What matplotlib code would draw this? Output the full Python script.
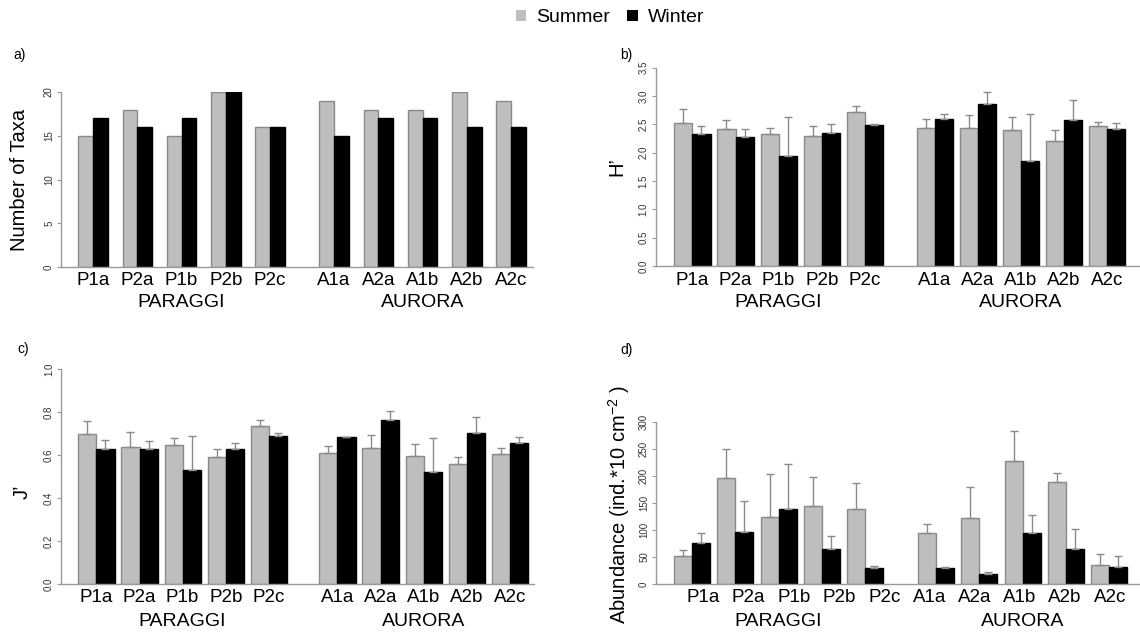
import matplotlib
matplotlib.use("Agg")
import matplotlib.pyplot as plt
from matplotlib.patches import Patch
import numpy as np

plt.rcParams["font.family"] = ["Liberation Sans", "DejaVu Sans"]
plt.rcParams["mathtext.fontset"] = "custom"
plt.rcParams["mathtext.rm"] = "Liberation Sans"
plt.rcParams["mathtext.default"] = "rm"

W, H = 1140, 633

sites = ["P1a", "P2a", "P1b", "P2b", "P2c", "A1a", "A2a", "A1b", "A2b", "A2c"]
locations = ["PARAGGI", "AURORA"]
seasons = ["Summer", "Winter"]

# a) number of taxa
taxa_summer = [15, 18, 15, 20, 16, 19, 18, 18, 20, 19]
taxa_winter = [17, 16, 17, 20, 16, 15, 17, 17, 16, 16]

# b) Shannon H'
h_summer = [2.53, 2.41, 2.33, 2.30, 2.72, 2.44, 2.43, 2.39, 2.21, 2.46]
h_summer_se = [0.24, 0.17, 0.11, 0.17, 0.10, 0.16, 0.24, 0.24, 0.18, 0.08]
h_winter = [2.33, 2.28, 1.94, 2.34, 2.49, 2.60, 2.86, 1.86, 2.58, 2.41]
h_winter_se = [0.14, 0.13, 0.68, 0.17, 0.01, 0.08, 0.20, 0.82, 0.34, 0.11]

# c) Pielou J'
j_summer = [0.697, 0.637, 0.648, 0.592, 0.733, 0.609, 0.632, 0.596, 0.557, 0.604]
j_summer_se = [0.062, 0.071, 0.032, 0.037, 0.031, 0.035, 0.061, 0.053, 0.035, 0.027]
j_winter = [0.629, 0.630, 0.531, 0.627, 0.689, 0.683, 0.761, 0.522, 0.702, 0.657]
j_winter_se = [0.042, 0.036, 0.157, 0.027, 0.014, 0.003, 0.045, 0.155, 0.074, 0.025]

# d) abundance
ab_summer = [52, 196, 123, 144, 139, 95, 122, 227, 188, 35]
ab_summer_se = [11, 54, 80, 54, 47, 16, 57, 56, 18, 21]
ab_winter = [76, 96, 138, 64, 30, 29, 18, 95, 64, 32]
ab_winter_se = [18, 58, 84, 24, 4, 3, 4, 32, 37, 19]

GREY = "#bebebe"
EDGE = "#8a8a8a"
AXC = "#9a9a9a"

fig = plt.figure(figsize=(W / 100, H / 100), dpi=100)


def panel(letter, lay, summer, winter, s_se, w_se, ymax, yticks, fmt, ylabel):
    # lay: pixel layout of the panel (axis ends, baseline, top, bars)
    l, r, base, top = lay["left"], lay["right"], lay["base"], lay["top"]
    ax = fig.add_axes([l / W, 1 - base / H, (r - l) / W, (base - top) / H])
    ax.set_xlim(l, r)
    ax.set_ylim(0, ymax)

    w = lay["w"]
    starts = np.array([lay["x0"] + i * lay["pitch"] for i in range(5)] +
                      [lay["a0"] + i * lay["pitch"] for i in range(5)])
    ax.bar(starts, summer, width=w, align="edge", color=GREY,
           edgecolor=EDGE, linewidth=1, zorder=2)
    ax.bar(starts + w, winter, width=w, align="edge", color="black",
           edgecolor="black", linewidth=1, zorder=2)
    if s_se is not None:
        z = np.zeros(len(summer))
        ax.errorbar(starts + w / 2, summer, yerr=[z, s_se], fmt="none",
                    ecolor=EDGE, elinewidth=1, capsize=2.6, capthick=1, zorder=3)
        ax.errorbar(starts + 1.5 * w, winter, yerr=[z, w_se], fmt="none",
                    ecolor=EDGE, elinewidth=1, capsize=2.6, capthick=1, zorder=3)

    for s in ["top", "right"]:
        ax.spines[s].set_visible(False)
    for s in ["left", "bottom"]:
        ax.spines[s].set_color(AXC)
        ax.spines[s].set_linewidth(1)
    ax.set_xticks([])
    ax.set_yticks(yticks)
    ax.set_yticklabels([fmt.format(t) for t in yticks])
    ax.tick_params(axis="y", length=3, width=0.8, color=AXC, pad=2,
                   labelsize=7, labelcolor="#333333", labelrotation=90)
    for lbl in ax.get_yticklabels():
        lbl.set_va("center")

    # site names under the bars
    if lay.get("lab0") is None:
        lab_x = starts + w
    else:
        lab_x = lay["lab0"] + np.arange(10) * lay["labstep"]
    for x, s in zip(lab_x, sites):
        fig.text(x / W, 1 - lay["laby"] / H, s, ha="center", va="center",
                 fontsize=13.5)
    centers = [starts[2] + w, starts[7] + w]
    for x, s in zip(centers, locations):
        fig.text(x / W, 1 - lay["grpy"] / H, s, ha="center", va="center",
                 fontsize=14)

    fig.text(lay["ylab"][0] / W, 1 - lay["ylab"][1] / H, ylabel,
             rotation=90, ha="center", va="center", fontsize=14.5)
    fig.text(lay["letter"][0] / W, 1 - lay["letter"][1] / H, letter,
             ha="center", va="center", fontsize=10)
    return ax


lay_a = dict(left=61, right=533, base=267, top=92, x0=78.3, w=14.8,
             pitch=44.2, a0=319.3, laby=280, grpy=303,
             ylab=(20, 180), letter=(20, 55))
lay_b = dict(left=655.5, right=1140, base=266, top=67.5, x0=674.3, w=18.1,
             pitch=43.1, a0=916.7, laby=280, grpy=303,
             ylab=(617, 167), letter=(626, 55))
lay_c = dict(left=61, right=534, base=584, top=369, x0=78.3, w=18.1,
             pitch=43.1, a0=319.3, laby=598, grpy=622,
             ylab=(22, 492), letter=(23, 349))
lay_d = dict(left=656, right=1140, base=584, top=421.7, x0=674.3, w=18,
             pitch=43.1, a0=918.3, laby=598, grpy=622,
             ylab=(619, 505), letter=(627, 350), lab0=703.5, labstep=45.2)

panel("a)", lay_a, taxa_summer, taxa_winter, None, None,
      20, [0, 5, 10, 15, 20], "{:.0f}", "Number of Taxa")
panel("b)", lay_b, h_summer, h_winter, h_summer_se, h_winter_se,
      3.5, np.arange(0, 3.51, 0.5), "{:.1f}", "H\u2019")
panel("c)", lay_c, j_summer, j_winter, j_summer_se, j_winter_se,
      1.0, np.arange(0, 1.01, 0.2), "{:.1f}", "J\u2019")
panel("d)", lay_d, ab_summer, ab_winter, ab_summer_se, ab_winter_se,
      300, np.arange(0, 301, 50), "{:.0f}",
      "Abundance (ind.*10 cm$^{-2}$ )")

handles = [Patch(facecolor=GREY, edgecolor="none"),
           Patch(facecolor="black", edgecolor="none")]
fig.legend(handles, seasons, loc="center", bbox_to_anchor=(610 / W, 1 - 18 / H),
           ncol=2, frameon=False, fontsize=14, handlelength=0.55,
           handleheight=0.55, handletextpad=0.5, columnspacing=0.9,
           borderpad=0, borderaxespad=0)

fig.savefig("out.png", dpi=100)
